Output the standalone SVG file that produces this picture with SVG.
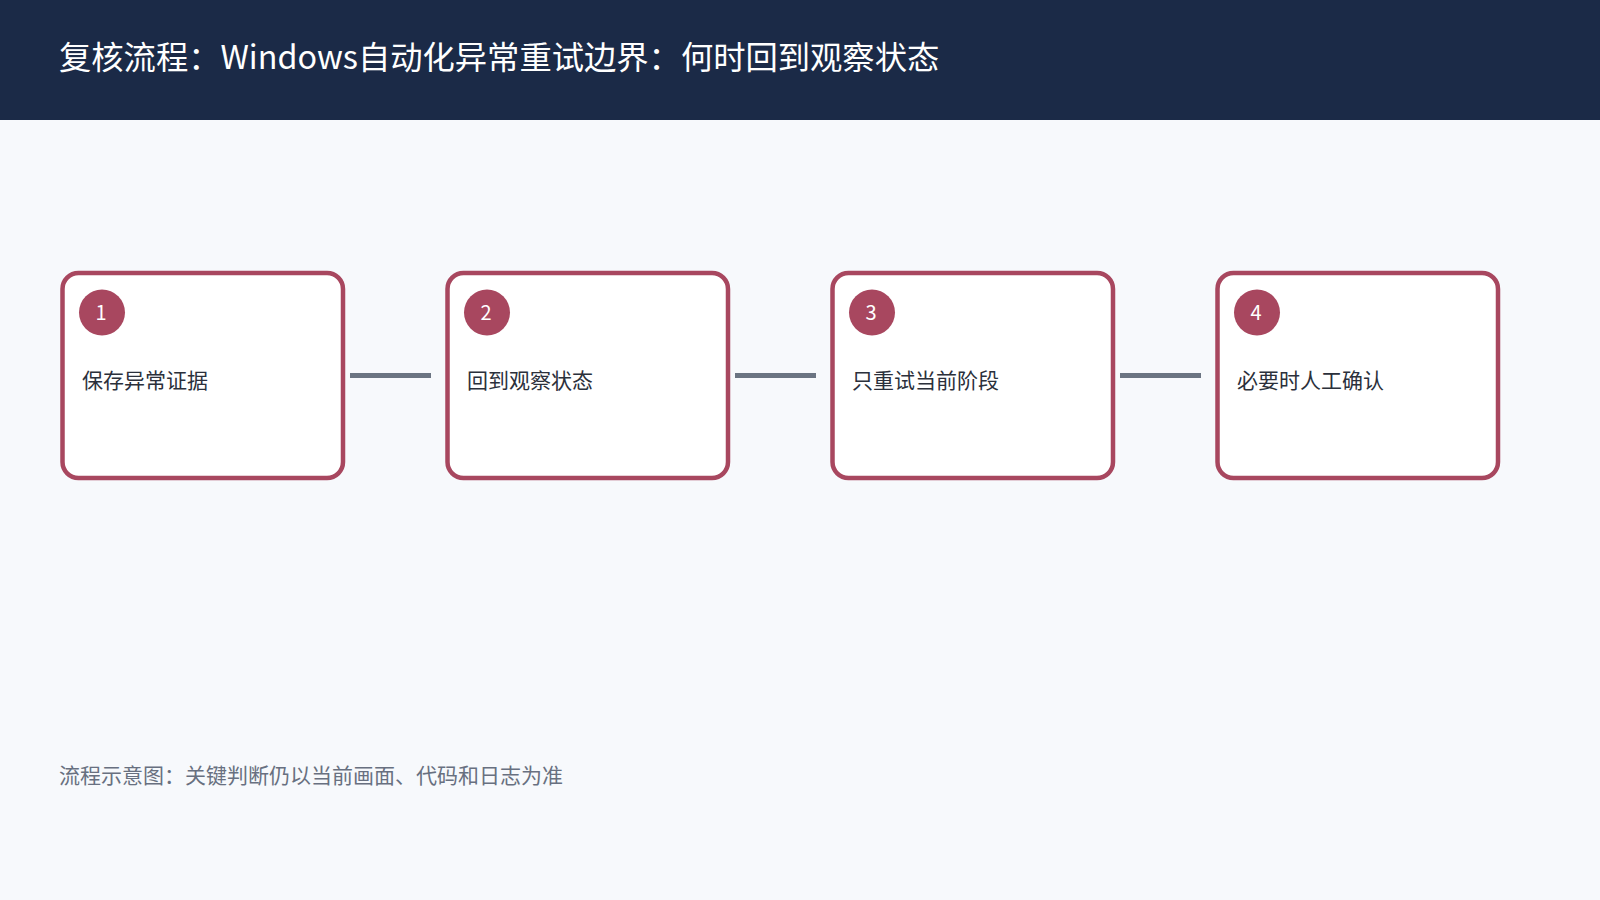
<svg xmlns="http://www.w3.org/2000/svg" width="1600" height="900" viewBox="0 0 1600 900">
  <style>
    .t { font-family: "Noto Sans CJK SC", "Noto Sans", sans-serif; }
    .card { fill: #ffffff; stroke: #a8475f; stroke-width: 4.5; }
    .badge { fill: #a8475f; }
    .num { fill: #ffffff; font-size: 20px; text-anchor: middle; }
    .label { fill: #2b303b; font-size: 21px; }
    .conn { stroke: #6b7482; stroke-width: 5; }
  </style>
  <rect x="0" y="0" width="1600" height="900" fill="#f7f9fc"/>
  <rect x="0" y="0" width="1600" height="120" fill="#1b2a47"/>
  <text class="t" x="59" y="69" font-size="32.3" fill="#ffffff">复核流程：Windows自动化异常重试边界：何时回到观察状态</text>

  <g id="connectors">
    <line class="conn" x1="350" y1="375.5" x2="431" y2="375.5"/>
    <line class="conn" x1="735" y1="375.5" x2="816" y2="375.5"/>
    <line class="conn" x1="1120" y1="375.5" x2="1201" y2="375.5"/>
  </g>

  <g id="node1">
    <rect class="card" x="62.5" y="273" width="280.5" height="205" rx="16"/>
    <circle class="badge" cx="102" cy="312.5" r="23"/>
    <text class="t num" x="101" y="319.5">1</text>
    <text class="t label" x="82" y="388">保存异常证据</text>
  </g>
  <g id="node2">
    <rect class="card" x="447.5" y="273" width="280.5" height="205" rx="16"/>
    <circle class="badge" cx="487" cy="312.5" r="23"/>
    <text class="t num" x="486" y="319.5">2</text>
    <text class="t label" x="467" y="388">回到观察状态</text>
  </g>
  <g id="node3">
    <rect class="card" x="832.5" y="273" width="280.5" height="205" rx="16"/>
    <circle class="badge" cx="872" cy="312.5" r="23"/>
    <text class="t num" x="871" y="319.5">3</text>
    <text class="t label" x="852" y="388">只重试当前阶段</text>
  </g>
  <g id="node4">
    <rect class="card" x="1217.5" y="273" width="280.5" height="205" rx="16"/>
    <circle class="badge" cx="1257" cy="312.5" r="23"/>
    <text class="t num" x="1256" y="319.5">4</text>
    <text class="t label" x="1237" y="388">必要时人工确认</text>
  </g>

  <text class="t" x="59" y="783" font-size="21" fill="#687080">流程示意图：关键判断仍以当前画面、代码和日志为准</text>
</svg>
